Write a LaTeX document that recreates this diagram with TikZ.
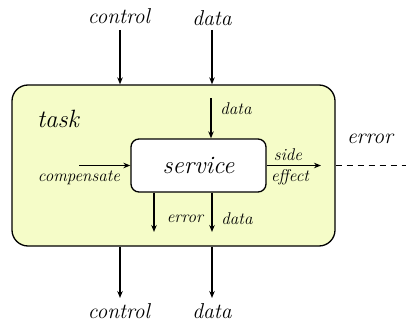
\documentclass[tikz,border=0pt]{standalone}
\usepackage{fontspec}
\usetikzlibrary{arrows.meta}
\definecolor{taskfill}{HTML}{F5FCC8}
\begin{document}
\begin{tikzpicture}[x=1pt,y=-1pt,
  line width=1.3pt,
  arr/.style={-{Stealth[length=7pt,width=5.5pt]}},
  lbl/.style={inner sep=0pt,font=\fontsize{21.5}{24}\selectfont\itshape},
  slbl/.style={inner sep=0pt,font=\fontsize{17}{19}\selectfont\itshape}]
\useasboundingbox (0,0) rectangle (406,326);
% boxes
\node[draw,fill=taskfill,rounded corners=16pt,minimum width=323pt,minimum height=161pt,inner sep=0pt] (task) at (173.5,165.5) {};
\node[draw,fill=white,rounded corners=8pt,minimum width=135pt,minimum height=53pt,inner sep=0pt,font=\fontsize{25}{28}\selectfont\itshape] (service) at (198.5,165.5) {service};
\node[inner sep=0pt,font=\fontsize{25}{28}\selectfont\itshape] (tasklbl) at (58,119) {task};
% top
\node[lbl] (ctlin) at (119,16) {control};
\node[lbl] (datain) at (212,18) {data};
\coordinate (ctlinS) at (120,30);
\coordinate (datainS) at (212,30);
\draw[arr] (ctlinS) -- (ctlinS |- task.north);
\draw[arr] (datainS) -- (datainS |- task.north);
% inner data in
\coordinate (idS) at (211,98);
\draw[arr] (idS) -- (idS |- service.north);
\node[slbl] (idlbl) at (236,109) {data};
% compensate
\coordinate (compS) at (79,165.5);
\draw[arr] (compS) -- (service.west);
\node[slbl] (complbl) at (79,178) {compensate};
% side effect
\coordinate (seE) at (321,165.5);
\draw[arr] (service.east) -- (seE);
\node[slbl] (sidelbl) at (288,155) {side};
\node[slbl] (efflbl) at (290,177) {effect};
% dashed error
\coordinate (errE) at (406,165.5);
\draw[dash pattern=on 6pt off 5pt] (task.east) -- (errE);
\node[lbl] (errlbl) at (370,139) {error};
% bottom inner
\coordinate (ieE) at (154,232);
\coordinate (idE) at (212,232);
\draw[arr] (ieE |- service.south) -- (ieE);
\draw[arr] (idE |- service.south) -- (idE);
\node[slbl] (ielbl) at (185,219) {error};
\node[slbl] (idolbl) at (237,219) {data};
% bottom outer
\coordinate (coE) at (120,298);
\coordinate (doE) at (212,298);
\draw[arr] (coE |- task.south) -- (coE);
\draw[arr] (doE |- task.south) -- (doE);
\node[lbl] (colbl) at (119,311) {control};
\node[lbl] (dolbl) at (212,311) {data};
\end{tikzpicture}
\end{document}
